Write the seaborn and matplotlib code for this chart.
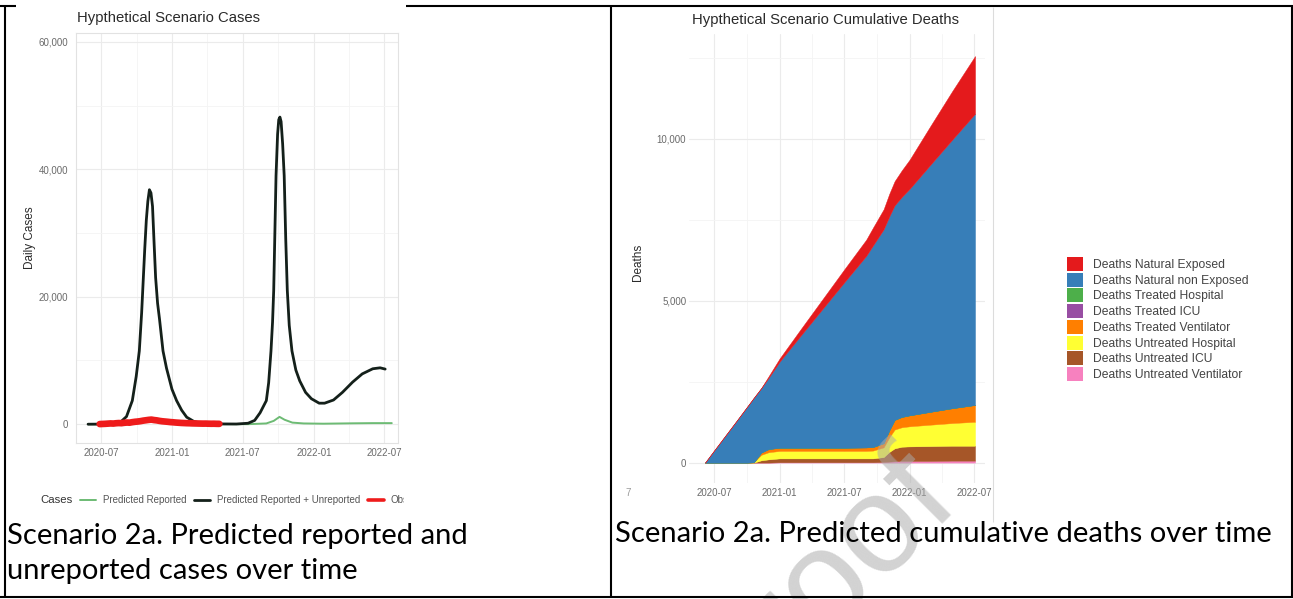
import matplotlib
matplotlib.use("Agg")
import matplotlib.pyplot as plt
import matplotlib.dates as mdates
from matplotlib.lines import Line2D
from matplotlib.patches import Patch
from matplotlib.ticker import MultipleLocator, FuncFormatter
from matplotlib.transforms import Bbox
import pandas as pd
import seaborn as sns

W, H, DPI = 1293, 599, 100

# ---------------- daily cases ----------------
total_dates = ["2020-05-29", "2020-07-15", "2020-08-05", "2020-08-20", "2020-09-05", "2020-09-20",
               "2020-09-30", "2020-10-08", "2020-10-14", "2020-10-18", "2020-10-22", "2020-10-26",
               "2020-10-30", "2020-11-03", "2020-11-07", "2020-11-11", "2020-11-15", "2020-11-19",
               "2020-11-24", "2020-11-29", "2020-12-08", "2020-12-17", "2020-12-31", "2021-01-12",
               "2021-01-25", "2021-02-07", "2021-02-25", "2021-03-12", "2021-04-15", "2021-05-15",
               "2021-06-15", "2021-07-15", "2021-08-01", "2021-08-15", "2021-08-31", "2021-09-06",
               "2021-09-12", "2021-09-16", "2021-09-19", "2021-09-22", "2021-09-25", "2021-09-29",
               "2021-10-02", "2021-10-05", "2021-10-08", "2021-10-12", "2021-10-16", "2021-10-20",
               "2021-10-24", "2021-10-29", "2021-11-05", "2021-11-15", "2021-11-25", "2021-12-10",
               "2021-12-25", "2022-01-14", "2022-01-28", "2022-02-20", "2022-03-15", "2022-04-10",
               "2022-05-05", "2022-06-01", "2022-06-20", "2022-07-03"]
total_cases = [0, 20, 80, 300, 1200, 3700,
               7500, 11500, 17500, 22500, 27500, 32000,
               35000, 36800, 36300, 34200, 28500, 23000,
               19000, 16500, 11500, 8800, 5500, 3700,
               2200, 1100, 450, 200, 70, 40,
               30, 150, 600, 1800, 3700, 6500,
               11500, 16000, 21000, 30000, 39000, 45500,
               47800, 48200, 47500, 44000, 39000, 29000,
               21000, 15500, 11500, 8500, 6800, 5000,
               4000, 3300, 3300, 3800, 5000, 6600,
               7900, 8700, 8850, 8650]

reported_dates = ["2020-05-29", "2020-08-20", "2020-09-20", "2020-10-15", "2020-11-04", "2020-11-22",
                  "2020-12-20", "2021-02-01", "2021-04-01", "2021-07-15", "2021-08-31", "2021-09-19",
                  "2021-10-04", "2021-10-17", "2021-11-06", "2021-12-05", "2022-01-25", "2022-04-10",
                  "2022-06-01", "2022-07-20"]
reported_cases = [0, 10, 80, 380, 700, 450, 150, 30, 5, 5, 120, 520,
                  1150, 700, 250, 120, 80, 140, 170, 170]

observed_start = "2020-06-28"   # weekly observations
observed_cases = [20, 40, 60, 90, 120, 100, 150, 180, 160, 220, 260, 240, 320, 380, 420,
                  480, 560, 620, 680, 720, 650, 600, 520, 460, 420, 380, 330, 300, 260, 230,
                  200, 180, 160, 150, 130, 120, 110, 100, 90, 95, 80, 70, 75, 60, 55]

case_series = ["Predicted Reported", "Predicted Reported + Unreported", "Observed"]

# ---------------- cumulative deaths ----------------
death_dates = ["2020-06-05", "2020-07-01", "2020-08-01", "2020-09-01", "2020-10-01", "2020-10-20",
               "2020-11-10", "2020-12-01", "2021-01-01", "2021-03-01", "2021-05-01", "2021-07-01",
               "2021-09-01", "2021-09-20", "2021-10-20", "2021-11-05", "2021-11-20", "2021-12-10",
               "2022-01-01", "2022-03-01", "2022-05-01", "2022-07-04"]
deaths_natural_exposed = [0, 0, 0, 0, 0, 0, 0, 50, 100, 200, 300, 400,
                          500, 550, 620, 700, 750, 820, 900, 1200, 1500, 1780]
deaths_natural_non_exposed = [0, 380, 830, 1280, 1720, 1990, 1990, 2200, 2660, 3460, 4280, 5100,
                              5910, 6220, 6600, 6600, 6620, 6790, 6990, 7630, 8290, 8990]
deaths_treated_hospital = [0] * 22
deaths_treated_icu = [0] * 22
deaths_treated_ventilator = [0, 0, 0, 0, 0, 0, 70, 100, 100, 100, 100, 100,
                             110, 110, 130, 220, 300, 320, 340, 400, 460, 520]
deaths_untreated_hospital = [0, 0, 0, 0, 0, 10, 170, 220, 230, 230, 230, 230,
                             230, 240, 300, 450, 580, 600, 620, 660, 700, 740]
deaths_untreated_icu = [0, 0, 0, 0, 0, 0, 70, 100, 120, 120, 120, 120,
                        120, 120, 150, 300, 400, 440, 450, 460, 460, 460]
deaths_untreated_ventilator = [0, 0, 0, 0, 0, 0, 0, 0, 10, 10, 10, 10,
                               10, 10, 20, 30, 40, 50, 50, 50, 60, 60]

death_labels = ["Deaths Natural Exposed", "Deaths Natural non Exposed", "Deaths Treated Hospital",
                "Deaths Treated ICU", "Deaths Treated Ventilator", "Deaths Untreated Hospital",
                "Deaths Untreated ICU", "Deaths Untreated Ventilator"]
death_colors = ["#E41A1C", "#377EB8", "#4DAF4A", "#984EA3", "#FF7F00", "#FFFF33", "#A65628", "#F781BF"]

# ---------------- styling ----------------
sns.set_theme(style="whitegrid")
plt.rcParams["font.family"] = ["Liberation Sans", "DejaVu Sans"]

GREEN, BLACK, RED = "#6dbb74", "#14201a", "#ee1b1b"
TICK_C, TITLE_C = "#6a6a6a", "#2a2a2a"

fig = plt.figure(figsize=(W / DPI, H / DPI), dpi=DPI)
fig.patch.set_facecolor("white")


def px_axes(l, t, r, b):
    return fig.add_axes([l / W, 1 - b / H, (r - l) / W, (b - t) / H])


def fx(x):
    return x / W


def fy(y):
    return 1 - y / H


def style_axes(ax, ypad):
    ax.set_facecolor("white")
    ax.grid(True, which="major", color="#ebebeb", lw=0.8)
    ax.grid(True, which="minor", color="#f4f4f4", lw=0.6)
    ax.tick_params(which="both", length=0, labelsize=7, colors=TICK_C)
    ax.tick_params(axis="x", pad=3.5)
    ax.tick_params(axis="y", pad=ypad)
    ax.set_xlabel("")
    ax.set_ylabel("")
    ax.xaxis.set_major_locator(mdates.MonthLocator(bymonth=[1, 7]))
    ax.xaxis.set_minor_locator(mdates.MonthLocator(bymonth=[4, 10]))
    ax.xaxis.set_major_formatter(mdates.DateFormatter("%Y-%m"))
    ax.yaxis.set_major_formatter(FuncFormatter(lambda v, _: f"{int(round(v)):,}"))


# ---------------- left panel: daily cases ----------------
axL = px_axes(76, 33, 398, 443)
obs_dates = pd.date_range(observed_start, periods=len(observed_cases), freq="7D")
sns.lineplot(x=pd.to_datetime(reported_dates), y=reported_cases, color=GREEN, lw=1.4, ax=axL)
sns.lineplot(x=pd.to_datetime(total_dates), y=total_cases, color=BLACK, lw=2.0, ax=axL,
             solid_joinstyle="round")
sns.lineplot(x=obs_dates, y=observed_cases, color=RED, lw=4.8, ax=axL)
axL.set_xlim(pd.Timestamp("2020-04-28"), pd.Timestamp("2022-08-05"))
axL.set_ylim(-2950, 61400)
axL.yaxis.set_major_locator(MultipleLocator(20000))
axL.yaxis.set_minor_locator(MultipleLocator(10000))
style_axes(axL, ypad=5.5)
for s in axL.spines.values():
    s.set_visible(True)
    s.set_color("#e2e2e2")
    s.set_linewidth(0.8)

fig.text(fx(77), fy(18), "Hypthetical Scenario Cases", ha="left", va="center",
         fontsize=10.7, color=TITLE_C)
fig.text(fx(30), fy(238), "Daily Cases", rotation=90, ha="center", va="center",
         fontsize=8.5, color=TITLE_C)

fig.text(fx(40), fy(500), "Cases", ha="left", va="center", fontsize=8.2, color="#333333")
case_handles = [Line2D([], [], color=GREEN, lw=1.4, label=case_series[0]),
                Line2D([], [], color=BLACK, lw=2.0, label=case_series[1]),
                Line2D([], [], color=RED, lw=2.6, label=case_series[2])]
legL = fig.legend(handles=case_handles, ncol=3, loc="center left",
                  bbox_to_anchor=(fx(80), fy(500)), frameon=False, fontsize=7,
                  handlelength=1.65, handletextpad=0.7, columnspacing=0.8,
                  borderpad=0, borderaxespad=0)
clip_bb = Bbox.from_extents(0, 0, 404, H)
for txt in legL.get_texts():
    txt.set_color("#555555")
for art in list(legL.get_texts()) + list(legL.legend_handles):
    art.set_clip_on(True)
    art.set_clip_box(clip_bb)

# ---------------- right panel: cumulative deaths ----------------
axR = px_axes(689, 34, 985, 483)
ddates = pd.to_datetime(death_dates)
stack = [deaths_untreated_ventilator, deaths_untreated_icu, deaths_untreated_hospital,
         deaths_treated_ventilator, deaths_treated_icu, deaths_treated_hospital,
         deaths_natural_non_exposed, deaths_natural_exposed]
stack_colors = death_colors[::-1]
axR.stackplot(ddates, *stack, colors=stack_colors, lw=0.3, edgecolor="face")
axR.set_xlim(pd.Timestamp("2020-04-21"), pd.Timestamp("2022-08-01"))
axR.set_ylim(-630, 13230)
axR.yaxis.set_major_locator(MultipleLocator(5000))
axR.yaxis.set_minor_locator(MultipleLocator(2500))
style_axes(axR, ypad=2)
for s in axR.spines.values():
    s.set_visible(False)

fig.text(fx(692), fy(20), "Hypthetical Scenario Cumulative Deaths", ha="left", va="center",
         fontsize=10.7, color=TITLE_C)
fig.text(fx(638), fy(262), "Deaths", rotation=90, ha="center", va="center",
         fontsize=8.5, color=TITLE_C)
fig.text(fx(628), fy(493), "7", ha="center", va="center", fontsize=7, color="#9a9a9a")

death_handles = [Patch(facecolor=c, edgecolor="none", label=l)
                 for c, l in zip(death_colors, death_labels)]
legR = fig.legend(handles=death_handles, loc="upper left", bbox_to_anchor=(fx(1067), fy(257)),
                  frameon=False, fontsize=8.7, handlelength=1.32, handleheight=1.4,
                  labelspacing=0.145, handletextpad=0.83, borderpad=0, borderaxespad=0)
for t in legR.get_texts():
    t.set_color("#444444")

# ---------------- table frame ----------------
def frame_line(x0, y0, x1, y1, color="black", lw=1.5):
    fig.add_artist(Line2D([fx(x0), fx(x1)], [fy(y0), fy(y1)], color=color, lw=lw,
                          transform=fig.transFigure, solid_capstyle="butt", zorder=5))


frame_line(0, 5.5, 16, 5.5)
frame_line(406, 5.5, W, 5.5)
frame_line(4.5, 5, 4.5, 598)
frame_line(611, 5, 611, 598)
frame_line(1291.5, 5, 1291.5, 598)
frame_line(0, 597, W, 597)
frame_line(993, 7, 993, 522, color="#dcdcdc", lw=0.8)

# ---------------- captions ----------------
cap_font = ["Lato", "DejaVu Sans"]
cap_r = fig.text(fx(615), fy(542), "Scenario 2a. Predicted cumulative deaths over time",
                 ha="left", va="baseline", fontsize=16, family=cap_font, color="black", zorder=6)
fig.canvas.draw()
fs = 16 * 658 / cap_r.get_window_extent().width
cap_r.set_fontsize(fs)
fig.text(fx(7), fy(544), "Scenario 2a. Predicted reported and", ha="left", va="baseline",
         fontsize=fs, family=cap_font, color="black", zorder=6)
fig.text(fx(7), fy(579), "unreported cases over time", ha="left", va="baseline",
         fontsize=fs, family=cap_font, color="black", zorder=6)

# faint page watermark
fig.text(fx(962), fy(505), "Journal Pre-proof", rotation=45, rotation_mode="anchor",
         ha="right", va="baseline", fontsize=100, color="#ababab", alpha=0.53, zorder=4)

fig.savefig("out.png", dpi=DPI, facecolor="white")
